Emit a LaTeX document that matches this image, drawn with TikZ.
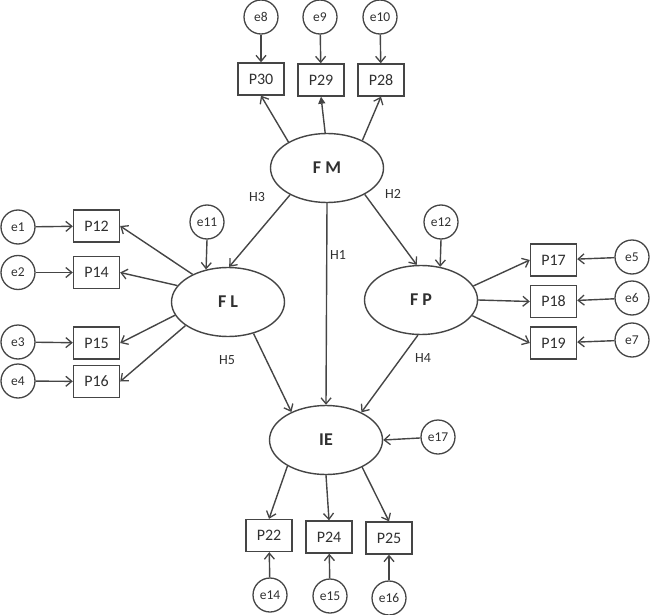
\documentclass[tikz,border=0pt]{standalone}
\usepackage{fontspec}
\setmainfont{Carlito}
\usetikzlibrary{arrows.meta,shapes.geometric}
\definecolor{ln}{HTML}{454545}
\definecolor{tx}{HTML}{303030}
\tikzset{
  lat/.style={ellipse,draw=ln,line width=1.4pt,minimum width=113pt,minimum height=69pt,inner sep=0pt,font=\fontsize{18}{20}\selectfont\bfseries,text=tx},
  obs/.style={rectangle,draw=ln,line width=1.4pt,minimum width=46pt,minimum height=32pt,inner sep=0pt,font=\fontsize{16}{18}\selectfont,text=tx},
  err/.style={circle,draw=ln,line width=1.3pt,minimum size=34pt,inner sep=0pt,font=\fontsize{13.5}{15}\selectfont,text=tx},
  hlab/.style={font=\fontsize{14}{16}\selectfont,text=tx,inner sep=0pt},
  arr/.style={draw=ln,line width=1.4pt,-{Straight Barb[length=6pt,width=10pt,line width=1.3pt]}},
  farr/.style={draw=ln,line width=1.4pt,-{Triangle[length=7pt,width=7pt]}}
}
\begin{document}
\begin{tikzpicture}[x=1pt,y=-1pt]
\useasboundingbox (0,0) rectangle (650,615);
% latent
\node[lat] (FM) at (327,168) {F M};
\node[lat] (FL) at (228,302) {F L};
\node[lat] (FP) at (421,300) {F P};
\node[lat] (IE) at (326,440) {IE};
% top
\node[obs] (P30) at (261,79) {P30};
\node[obs] (P29) at (321,80) {P29};
\node[obs] (P28) at (381,80) {P28};
\node[err] (e8) at (261,17) {e8};
\node[err] (e9) at (320,17) {e9};
\node[err] (e10) at (380,17) {e10};
% left
\node[obs] (P12) at (96.5,226) {P12};
\node[obs] (P14) at (96.5,272.5) {P14};
\node[obs] (P15) at (96.5,343) {P15};
\node[obs] (P16) at (96.5,381.5) {P16};
\node[err] (e1) at (18,227) {e1};
\node[err] (e2) at (18,272.5) {e2};
\node[err] (e3) at (18,342) {e3};
\node[err] (e4) at (18,381) {e4};
\node[err] (e11) at (207,222) {e11};
% right
\node[obs] (P17) at (553.5,260) {P17};
\node[obs] (P18) at (553.5,301.5) {P18};
\node[obs] (P19) at (553.5,343) {P19};
\node[err] (e5) at (632,257) {e5};
\node[err] (e6) at (632,298) {e6};
\node[err] (e7) at (632,340) {e7};
\node[err] (e12) at (441,222) {e12};
% bottom
\node[obs] (P22) at (269,535.5) {P22};
\node[obs] (P24) at (329,537) {P24};
\node[obs] (P25) at (389,538) {P25};
\node[err] (e14) at (270,595) {e14};
\node[err] (e15) at (330,596) {e15};
\node[err] (e16) at (389,598) {e16};
\node[err] (e17) at (438,437) {e17};
% labels
\node[hlab] (H3) at (257,197) {H3};
\node[hlab] (H2) at (393,194) {H2};
\node[hlab] (H1) at (338,255) {H1};
\node[hlab] (H5) at (227,360) {H5};
\node[hlab] (H4) at (423,358) {H4};
% errors to indicators
\draw[arr] (e8) -- (P30);
\draw[arr] (e9) -- (P29);
\draw[arr] (e10) -- (P28);
\draw[arr] (e1) -- (P12);
\draw[arr] (e2) -- (P14);
\draw[arr] (e3) -- (P15);
\draw[arr] (e4) -- (P16);
\draw[arr] (e5) -- (P17);
\draw[arr] (e6) -- (P18);
\draw[arr] (e7) -- (P19);
\draw[arr] (e14) -- (P22);
\draw[arr] (e15) -- (P24);
\draw[arr] (e16) -- (P25);
\draw[arr] (e11.south) -- (FL.124);
\draw[arr] (e12.south) -- (FP.60);
\draw[arr] (e17) -- (IE.east);
% FM
\draw[arr] (FM.146) -- (P30.south);
\draw[farr] (FM.93) -- (P29.south);
\draw[arr] (FM.38) -- (P28.south);
\draw[arr] (FM.216) -- (FL.88);
\draw[arr] (FM.-35) -- (FP.97);
\draw[arr] (FM.south) -- (IE.north);
% FL
\draw[arr] (FL.142) -- (P12.east);
\draw[arr] (FL.162) -- (P14.east);
\draw[arr] (FL.194) -- (P15.east);
\draw[arr] (FL.209) -- (P16.east);
\draw[arr] (FL.-51) -- (IE.141);
% FP
\draw[arr] (FP.15) -- (P17.west);
\draw[arr] (FP.0) -- (P18.west);
\draw[arr] (FP.-17) -- (P19.west);
\draw[arr] (FP.-95) -- (IE.38);
% IE
\draw[arr] (IE.214) -- (P22.north);
\draw[arr] (IE.-90) -- (P24.north);
\draw[arr] (IE.-37) -- (P25.north);
\end{tikzpicture}
\end{document}
